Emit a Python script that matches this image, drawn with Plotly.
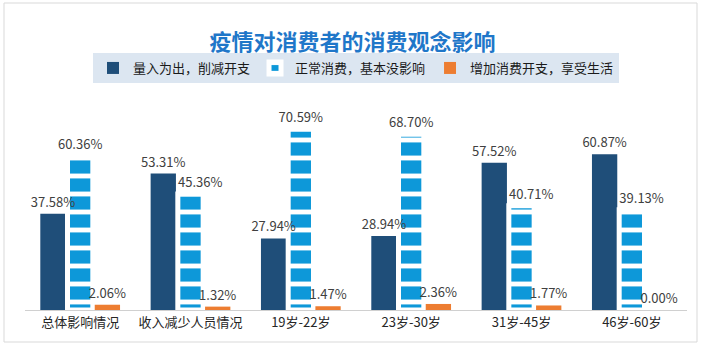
import plotly.graph_objects as go

categories = ["总体影响情况", "收入减少人员情况", "19岁-22岁", "23岁-30岁", "31岁-45岁", "46岁-60岁"]
series_names = ["量入为出，削减开支", "正常消费，基本没影响", "增加消费开支，享受生活"]
cut_spending = [37.58, 53.31, 27.94, 28.94, 57.52, 60.87]
normal_spending = [60.36, 45.36, 70.59, 68.70, 40.71, 39.13]
more_spending = [2.06, 1.32, 1.47, 2.36, 1.77, 0.00]

FONT = "Noto Sans CJK SC"
W, H = 705, 352
ml, mr, mt, mb = 25, 18, 95, 42

fig = go.Figure()
fig.add_trace(go.Bar(
    name=series_names[0], x=categories, y=cut_spending,
    marker=dict(color="#1f4e79", line=dict(width=0)),
))
fig.add_trace(go.Bar(
    name=series_names[1], x=categories, y=normal_spending,
    marker=dict(color="#0d98d9", line=dict(color="white", width=5),
                pattern=dict(shape="-", fillmode="replace", bgcolor="#0d98d9",
                             fgcolor="white", size=18, solidity=0.27)),
))
fig.add_trace(go.Bar(
    name=series_names[2], x=categories, y=more_spending,
    marker=dict(color="#ed7d31", line=dict(width=0)),
))

# labels: pill labels nudge right (via leading spaces) when they would sit on the taller dark bar
labels_cut = [f"{v:.2f}%" for v in cut_spending]
labels_normal = [("\u2002\u2002\u2002" if n < c else "") + f"{n:.2f}%"
                 for n, c in zip(normal_spending, cut_spending)]
labels_more = [f"{v:.2f}%" for v in more_spending]

for vals, labels in [(cut_spending, labels_cut), (normal_spending, labels_normal),
                     (more_spending, labels_more)]:
    fig.add_trace(go.Bar(
        x=categories, y=vals, xaxis="x2", yaxis="y2", showlegend=False,
        marker=dict(color="rgba(0,0,0,0)", line=dict(width=0)),
        text=labels, textposition="outside",
        cliponaxis=False, constraintext="none", hoverinfo="skip",
        textfont=dict(family=FONT, size=13, color="#404040"),
    ))

pw = W - ml - mr
ph = H - mt - mb
fig.add_shape(type="rect", xref="paper", yref="paper",
              x0=(4 - ml) / pw, x1=(697 - ml) / pw,
              y0=(H - mb - 342) / ph, y1=(H - mb - 3) / ph,
              line=dict(color="#d9d9d9", width=1), fillcolor="rgba(0,0,0,0)", layer="below")

fig.update_layout(
    width=W, height=H,
    margin=dict(l=ml, r=mr, t=mt, b=mb),
    paper_bgcolor="white", plot_bgcolor="white",
    barmode="group", bargap=0.26, bargroupgap=0.07,
    font=dict(family=FONT, color="#262626"),
    title=dict(text="<b>疫情对消费者的消费观念影响</b>", x=0.5, xanchor="center",
               y=1 - 42 / H, yanchor="middle",
               font=dict(family=FONT, size=22, color="#1f77c9")),
    legend=dict(orientation="h", x=0.5, xanchor="center", y=1 + (mt - 53) / ph, yanchor="top",
                bgcolor="#dce6f1", font=dict(family=FONT, size=13, color="#1a1a1a"),
                itemwidth=30, traceorder="normal"),
    xaxis=dict(showline=True, linecolor="#d0d0d0", linewidth=1, ticks="",
               tickfont=dict(family=FONT, size=13, color="#262626")),
    yaxis=dict(range=[0, 84], visible=False, showgrid=False),
    xaxis2=dict(overlaying="x", matches="x", visible=False),
    yaxis2=dict(overlaying="y", matches="y", range=[0, 84], visible=False, showgrid=False),
    showlegend=True,
)

fig.write_html("out.html")
